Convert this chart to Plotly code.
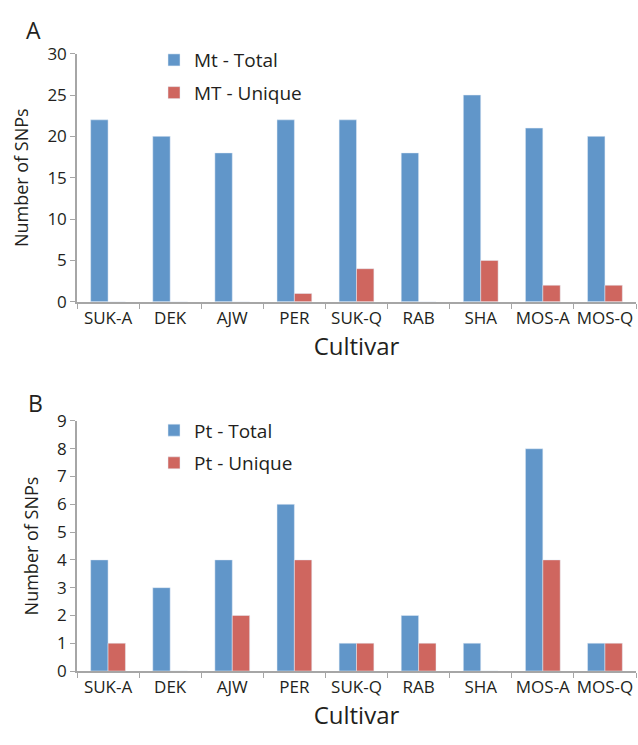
import plotly.graph_objects as go

cultivars = ["SUK-A", "DEK", "AJW", "PER", "SUK-Q", "RAB", "SHA", "MOS-A", "MOS-Q"]
mt_total = [22, 20, 18, 22, 22, 18, 25, 21, 20]
mt_unique = [0, 0, 0, 1, 4, 0, 5, 2, 2]
pt_total = [4, 3, 4, 6, 1, 2, 1, 8, 1]
pt_unique = [1, 0, 2, 4, 1, 1, 0, 4, 1]

BLUE = "#6196C9"
RED = "#CF665F"
AXC = "#A6A6A6"
TXT = "#231F20"
FONT = "Open Sans"
W, H = 638, 745
L, R = 77, 2

fig = go.Figure()
fig.add_trace(go.Bar(x=cultivars, y=mt_total, name="Mt - Total", marker_color=BLUE,
                     xaxis="x", yaxis="y", legend="legend", legendgroup="a1"))
fig.add_trace(go.Bar(x=cultivars, y=mt_unique, name="MT - Unique", marker_color=RED,
                     xaxis="x", yaxis="y", legend="legend", legendgroup="a2"))
fig.add_trace(go.Bar(x=cultivars, y=pt_total, name="Pt - Total", marker_color=BLUE,
                     xaxis="x2", yaxis="y2", legend="legend2", legendgroup="b1"))
fig.add_trace(go.Bar(x=cultivars, y=pt_unique, name="Pt - Unique", marker_color=RED,
                     xaxis="x2", yaxis="y2", legend="legend2", legendgroup="b2"))


def ydom(top, bottom):
    return [1 - bottom / H, 1 - top / H]


def px2x(px):
    return (px - L) / (W - L - R)


xcommon = dict(type="category", showline=True, linecolor=AXC, linewidth=1.5,
               ticks="outside", tickson="boundaries", ticklen=5, tickcolor=AXC,
               showgrid=False, tickangle=0,
               tickfont=dict(size=17, color=TXT, family=FONT),
               title=dict(text="Cultivar", font=dict(size=24, color=TXT, family=FONT), standoff=6),
               domain=[0, 1])
ycommon = dict(showline=True, linecolor=AXC, linewidth=1.5, ticks="outside", ticklen=5,
               tickcolor=AXC, showgrid=False, zeroline=False,
               tickfont=dict(size=17, color=TXT, family=FONT),
               title=dict(text="Number of SNPs", font=dict(size=18, color=TXT, family=FONT), standoff=14))

legfont = dict(size=19, family=FONT, color=TXT)

fig.update_layout(
    width=W, height=H,
    margin=dict(l=L, r=R, t=0, b=0),
    paper_bgcolor="white", plot_bgcolor="white",
    barmode="group", bargap=0.44, bargroupgap=0,
    font=dict(family=FONT, color=TXT),
    xaxis=dict(xcommon, anchor="y"),
    xaxis2=dict(xcommon, anchor="y2"),
    yaxis=dict(ycommon, domain=ydom(43, 299), range=[0, 30], dtick=5, anchor="x"),
    yaxis2=dict(ycommon, domain=ydom(422, 680), range=[0, 9], dtick=1, anchor="x2"),
    legend=dict(x=px2x(154), y=1 - 30 / H, xanchor="left", yanchor="top", font=legfont,
                bgcolor="rgba(0,0,0,0)", itemwidth=30, tracegroupgap=5),
    legend2=dict(x=px2x(154), y=1 - 412 / H, xanchor="left", yanchor="top", font=legfont,
                 bgcolor="rgba(0,0,0,0)", itemwidth=30, tracegroupgap=5),
    annotations=[
        dict(text="A", x=px2x(24), y=1 - 19 / H, xref="paper", yref="paper",
             xanchor="left", yanchor="middle", showarrow=False,
             font=dict(size=23, family=FONT, color=TXT)),
        dict(text="B", x=px2x(26), y=1 - 403 / H, xref="paper", yref="paper",
             xanchor="left", yanchor="middle", showarrow=False,
             font=dict(size=23, family=FONT, color=TXT)),
    ],
)

fig.write_html("out.html", config={"displayModeBar": False},
               post_script="document.body.style.margin='0px';")
